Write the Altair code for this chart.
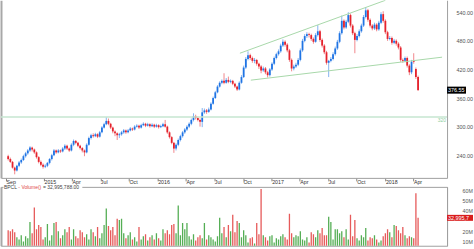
import altair as alt
import pandas as pd

FONT = "Liberation Sans"

# ---- weekly candles (Sep 2014 - Apr 2018) ----
open_ = [238, 232, 226, 214, 208, 218, 225, 230, 238, 244,
         250, 256, 252, 246, 236, 226, 220, 216, 218, 224,
         232, 240, 250, 246, 250, 248, 254, 260, 254, 250,
         262, 270, 266, 260, 255, 250, 246, 262, 276, 282,
         280, 284, 279, 288, 298, 305, 312, 306, 298, 290,
         286, 282, 284, 288, 292, 288, 292, 296, 294, 300,
         302, 298, 303, 306, 302, 305, 301, 304, 300, 303,
         299, 301, 305, 300, 288, 278, 266, 254, 262, 272,
         280, 288, 294, 300, 306, 314, 322, 318, 314, 310,
         330, 334, 331, 336, 348, 360, 372, 384, 392, 396,
         392, 398, 394, 396, 390, 384, 378, 392, 404, 424,
         442, 450, 444, 438, 440, 432, 426, 418, 422, 414,
         408, 420, 432, 444, 452, 458, 470, 478, 472, 460,
         440, 422, 426, 430, 440, 460, 480, 490, 494, 492,
         484, 478, 492, 500, 482, 470, 456, 434, 438, 442,
         452, 464, 478, 496, 522, 508, 520, 534, 512, 496,
         482, 490, 500, 512, 530, 544, 524, 512, 506, 514,
         504, 518, 536, 522, 498, 484, 486, 476, 480, 474,
         466, 440, 438, 444, 428, 414, 438, 421, 404]
high = [241, 235, 228, 216, 220, 228, 233, 241, 247, 253,
        259, 258, 254, 248, 238, 229, 223, 221, 226, 234,
        243, 253, 252, 253, 252, 257, 263, 262, 256, 265,
        273, 272, 268, 262, 257, 252, 265, 279, 285, 286,
        287, 286, 291, 301, 308, 320, 317, 308, 300, 292,
        288, 287, 291, 295, 294, 295, 299, 298, 303, 305,
        304, 306, 309, 308, 308, 307, 307, 306, 306, 305,
        304, 308, 314, 302, 290, 280, 268, 265, 275, 283,
        291, 297, 303, 309, 317, 328, 325, 321, 317, 339,
        338, 337, 340, 351, 363, 375, 387, 395, 399, 412,
        402, 405, 399, 398, 392, 386, 395, 408, 428, 446,
        458, 453, 447, 444, 442, 434, 429, 426, 425, 417,
        423, 435, 447, 455, 462, 474, 483, 481, 475, 463,
        443, 430, 434, 444, 464, 484, 494, 498, 497, 495,
        487, 496, 513, 503, 485, 473, 459, 440, 446, 456,
        468, 482, 500, 533, 525, 524, 540, 537, 515, 499,
        494, 504, 516, 534, 551, 547, 527, 515, 518, 517,
        522, 540, 542, 525, 501, 490, 489, 484, 483, 477,
        469, 443, 447, 447, 431, 440, 454, 424, 407]
low = [229, 224, 212, 200, 206, 215, 222, 228, 235, 241,
       247, 248, 243, 233, 223, 217, 212, 213, 215, 221,
       229, 238, 243, 244, 245, 246, 251, 251, 247, 248,
       259, 263, 257, 252, 246, 238, 244, 260, 273, 277,
       278, 276, 277, 286, 296, 303, 303, 295, 286, 280,
       272, 276, 281, 285, 285, 286, 290, 291, 292, 298,
       295, 296, 301, 299, 300, 298, 299, 297, 298, 296,
       297, 299, 298, 285, 275, 263, 245, 250, 259, 269,
       277, 285, 291, 297, 303, 311, 315, 311, 300, 299,
       327, 327, 329, 334, 346, 358, 370, 382, 389, 389,
       390, 391, 391, 387, 381, 375, 376, 390, 402, 421,
       439, 440, 434, 433, 428, 421, 412, 415, 410, 403,
       405, 417, 429, 441, 449, 455, 467, 468, 456, 436,
       416, 418, 423, 427, 437, 457, 477, 486, 487, 480,
       474, 476, 489, 478, 466, 452, 430, 404, 435, 439,
       449, 461, 475, 493, 504, 505, 517, 508, 492, 454,
       479, 487, 497, 509, 527, 520, 508, 502, 503, 500,
       501, 515, 518, 494, 480, 481, 472, 473, 470, 462,
       436, 434, 435, 424, 408, 410, 432, 400, 376]
close_ = [232, 226, 214, 208, 218, 225, 230, 238, 244, 250,
          256, 252, 246, 236, 226, 220, 216, 218, 224, 232,
          240, 250, 246, 250, 248, 254, 260, 254, 250, 262,
          270, 266, 260, 255, 250, 246, 262, 276, 282, 280,
          284, 279, 288, 298, 305, 312, 306, 298, 290, 286,
          282, 284, 288, 292, 288, 292, 296, 294, 300, 302,
          298, 303, 306, 302, 305, 301, 304, 300, 303, 299,
          301, 305, 300, 288, 278, 266, 254, 262, 272, 280,
          288, 294, 300, 306, 314, 322, 318, 314, 310, 330,
          334, 331, 336, 348, 360, 372, 384, 392, 396, 392,
          398, 394, 396, 390, 384, 378, 392, 404, 424, 442,
          450, 444, 438, 440, 432, 426, 418, 422, 414, 408,
          420, 432, 444, 452, 458, 470, 478, 472, 460, 440,
          422, 426, 430, 440, 460, 480, 490, 494, 492, 484,
          478, 492, 500, 482, 470, 456, 434, 438, 442, 452,
          464, 478, 496, 522, 508, 520, 534, 512, 496, 482,
          490, 500, 512, 530, 544, 524, 512, 506, 514, 504,
          518, 536, 522, 498, 484, 486, 476, 480, 474, 466,
          440, 438, 444, 428, 414, 436, 436, 404, 376.55]
# weekly volume, millions
volume_m = [21, 20, 22, 19, 14, 12, 16, 10, 15, 13,
            29, 18, 43, 22, 26, 24, 12, 14, 27, 11,
            16, 28, 29, 20, 13, 16, 22, 19, 24, 12,
            22, 15, 13, 21, 19, 14, 17, 12, 22, 19,
            15, 24, 13, 18, 26, 42, 25, 21, 24, 16,
            32, 31, 32, 18, 13, 16, 19, 12, 14, 10,
            24, 12, 15, 17, 11, 14, 16, 12, 18, 13,
            11, 22, 18, 21, 17, 26, 27, 18, 45, 16,
            28, 22, 28, 15, 12, 17, 11, 14, 16, 13,
            28, 12, 16, 14, 12, 10, 15, 33, 18, 24,
            14, 26, 20, 36, 19, 30, 28, 14, 21, 16,
            9, 13, 14, 8, 28, 17, 61, 16, 14, 11,
            15, 16, 9, 13, 12, 15, 17, 14, 12, 37,
            18, 14, 16, 15, 20, 12, 11, 14, 9, 19,
            17, 14, 21, 18, 23, 16, 16, 34, 29, 12,
            22, 22, 18, 20, 14, 22, 12, 36, 15, 31,
            13, 11, 16, 14, 23, 11, 14, 13, 16, 12,
            9, 11, 15, 18, 22, 19, 14, 26, 25, 21,
            18, 24, 16, 13, 15, 14, 13, 57, 32.995788]

first_week = "2014-09-08"
tick_months = [(2014, 9), (2015, 1), (2015, 4), (2015, 7), (2015, 10),
               (2016, 1), (2016, 4), (2016, 7), (2016, 10),
               (2017, 1), (2017, 4), (2017, 7), (2017, 10),
               (2018, 1), (2018, 4)]
price_ticks = [240, 300, 360, 420, 480, 540]
# the 30M label sits under the last-volume marker in the reference
vol_ticks = [10e6, 20e6, 40e6, 50e6, 60e6]

support_level = [320]
trend_id = ["upper", "upper", "lower", "lower"]
trend_date = ["2016-09-21", "2018-01-01", "2016-10-26", "2018-07-02"]
trend_price = [454, 565, 397.5, 445.7]

# ---- tables ----
dates = pd.date_range(first_week, periods=len(close_), freq="7D")
df = pd.DataFrame({
    "date": dates, "open": open_, "high": high, "low": low, "close": close_,
    "volume": [v * 1e6 for v in volume_m],
})
df["dir"] = ["up" if c >= o else "down" for o, c in zip(open_, close_)]
df_last = df.iloc[[-1]].reset_index(drop=True)
df_level = pd.DataFrame({"level": support_level})
df_trend = pd.DataFrame({"id": trend_id, "date": pd.to_datetime(trend_date), "price": trend_price})

x_domain = [alt.DateTime(year=2014, month=9, date=1), alt.DateTime(year=2018, month=7, date=2)]
tick_dates = [alt.DateTime(year=y, month=m, date=1) for (y, m) in tick_months]

W, H_PRICE, H_VOL = 447, 178, 59

x_price = alt.X(
    "date:T", scale=alt.Scale(domain=x_domain),
    axis=alt.Axis(values=tick_dates,
                  labelExpr="month(datum.value) == 0 ? timeFormat(datum.value, '%Y') : timeFormat(datum.value, '%b')",
                  labelAlign="left", labelBaseline="top", labelPadding=-1,
                  tickSize=3, tickColor="#888888", domainColor="#a0a0a0",
                  labelFontSize=5.3, labelColor="#333333", labelFont=FONT,
                  grid=False, title=None, labelOverlap=False, labelFlush=False))

price_scale = alt.Scale(domain=[192.5, 565.1], nice=False, zero=False)
left_axis = alt.Axis(orient="left", labels=False, ticks=False, grid=False, title=None,
                     domainColor="#a8a8a8", domainWidth=2)
right_price_axis = alt.Axis(orient="right", values=price_ticks, format=".2f", ticks=False, tickSize=0,
                            labelPadding=9, grid=False, title=None, domainColor="#a0a0a0",
                            labelFontSize=5.4, labelColor="#555555", labelFont=FONT,
                            labelOverlap=False)
candle_colors = alt.Scale(domain=["up", "down"], range=["#1f74e4", "#e5222c"])

wicks = alt.Chart(df).mark_rule(strokeWidth=1, opacity=0.55).encode(
    x=x_price,
    y=alt.Y("low:Q", scale=price_scale, axis=left_axis),
    y2="high:Q",
    color=alt.Color("dir:N", scale=candle_colors, legend=None),
)
bodies = alt.Chart(df).mark_bar(width=1.8).encode(
    x=x_price,
    y=alt.Y("open:Q", scale=price_scale, axis=right_price_axis),
    y2="close:Q",
    color=alt.Color("dir:N", scale=candle_colors, legend=None),
)
level_line = alt.Chart(df_level).mark_rule(color="#c6e6d0", strokeWidth=1.5).encode(
    y=alt.Y("level:Q", scale=price_scale, axis=None))
level_text = alt.Chart(df_level).mark_text(align="right", baseline="top", dy=1, fontSize=5,
                                           font=FONT, color="#8fcf9f").encode(
    x=alt.value(446), y=alt.Y("level:Q", scale=price_scale, axis=None), text=alt.Text("level:Q"))
trend = alt.Chart(df_trend).mark_line(clip=True, strokeWidth=1, color="#a8d8aa").encode(
    x=x_price, y=alt.Y("price:Q", scale=price_scale, axis=None), detail="id:N")
price_box = alt.Chart(df_last).mark_point(shape="M-1,-0.37H1V0.37H-1Z", filled=True, size=361,
                                          color="#000000", opacity=1).encode(
    x=alt.value(456.5), y=alt.Y("close:Q", scale=price_scale, axis=None))
price_text = alt.Chart(df_last).mark_text(align="left", baseline="middle", fontSize=5.4, font=FONT,
                                          color="#ffffff").encode(
    x=alt.value(448), y=alt.Y("close:Q", scale=price_scale, axis=None),
    text=alt.Text("close:Q", format=".2f"))

price = alt.layer(wicks, bodies, level_line, level_text, trend, price_box, price_text).resolve_axis(
    y="independent").properties(width=W, height=H_PRICE, view=alt.ViewBackground(stroke=None))

# ---- volume panel ----
vol_scale = alt.Scale(domain=[5.8e6, 63.2e6], nice=False, zero=False)
vol_colors = alt.Scale(domain=["up", "down"], range=["#55ae55", "#e65a5a"])
x_vol = alt.X("date:T", scale=alt.Scale(domain=x_domain), axis=None)
right_vol_axis = alt.Axis(orient="right", values=vol_ticks, labelExpr="format(datum.value / 1e6, 'd') + 'M'",
                          ticks=False, tickSize=0, labelPadding=15, grid=False, title=None,
                          domainColor="#a0a0a0", labelFontSize=5.3, labelColor="#555555", labelFont=FONT,
                          labelOverlap=False)

vbars = alt.Chart(df).mark_bar(width=1.3, clip=True).encode(
    x=x_vol,
    y=alt.Y("volume:Q", scale=vol_scale, axis=right_vol_axis),
    color=alt.Color("dir:N", scale=vol_colors, legend=None),
)
vol_box = alt.Chart(df_last).mark_point(shape="M-1,-0.23H1V0.23H-1Z", filled=True, size=676,
                                        color="#d91c1c", opacity=1).encode(
    x=alt.value(460), y=alt.Y("volume:Q", scale=vol_scale, axis=left_axis))
vol_text = alt.Chart(df_last).mark_text(align="left", baseline="middle", fontSize=5.4, font=FONT,
                                        color="#ffffff", limit=23, ellipsis=" ").encode(
    x=alt.value(448), y=alt.Y("volume:Q", scale=vol_scale, axis=None),
    text=alt.Text("volume:Q", format=",.0f"))
legend_bg = alt.Chart(df_last).mark_rule(color="#ffffff", strokeWidth=3).encode(
    x=alt.value(2.5), x2=alt.value(81.5), y=alt.value(0.5))
leg1 = alt.Chart(df_last).transform_calculate(t="'BPCL'").mark_text(
    align="left", baseline="middle", fontSize=5, font=FONT, color="#444444").encode(
    x=alt.value(3), y=alt.value(0.5), text="t:N")
leg2 = alt.Chart(df_last).transform_calculate(t="'- Volume()'").mark_text(
    align="left", baseline="middle", fontSize=5, font=FONT, color="#e04848").encode(
    x=alt.value(17.4), y=alt.value(0.5), text="t:N")
leg3 = alt.Chart(df_last).transform_calculate(t="'= ' + format(datum.volume, ',.2f')").mark_text(
    align="left", baseline="middle", fontSize=5, font=FONT, color="#444444").encode(
    x=alt.value(42.1), y=alt.value(0.5), text="t:N")

volume = alt.layer(vbars, vol_box, vol_text, legend_bg, leg1, leg2, leg3).resolve_axis(
    y="independent").properties(width=W, height=H_VOL,
                                view=alt.ViewBackground(stroke="#a0a0a0", strokeWidth=1))

chart = alt.vconcat(price, volume, spacing=9, bounds="flush").resolve_scale(
    color="independent").properties(
    padding={"left": 0, "top": 0, "right": 0, "bottom": 0},
    background="#ffffff",
).configure(font=FONT)

chart.save("out.html", embed_options={"renderer": "svg", "actions": False})
